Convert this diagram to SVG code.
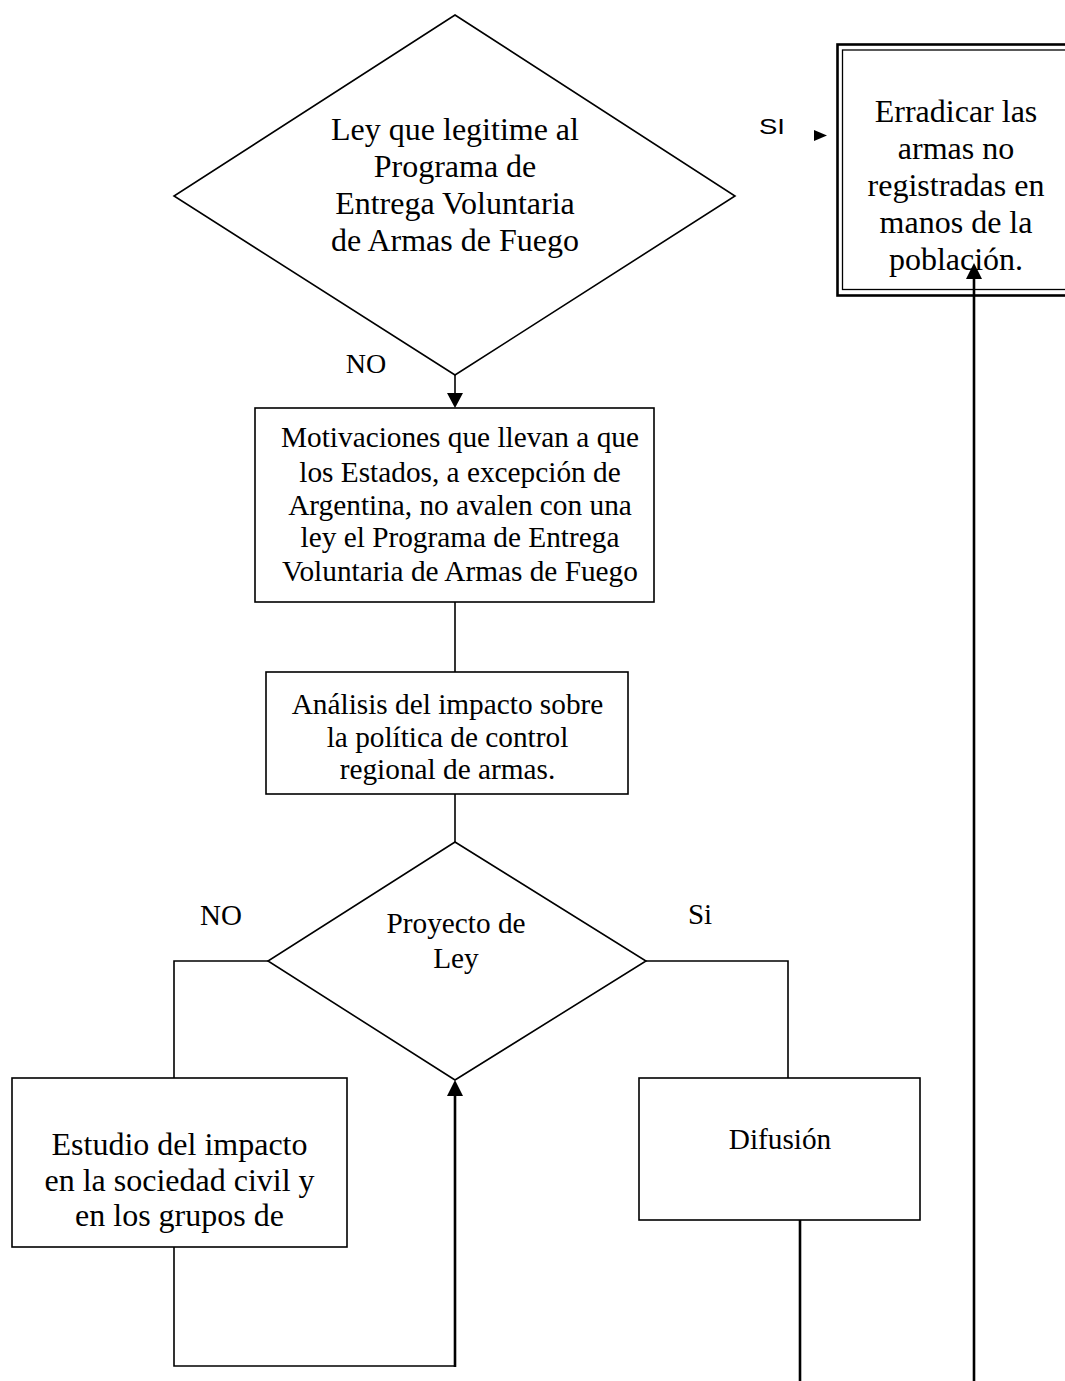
<svg xmlns="http://www.w3.org/2000/svg" width="1065" height="1381" viewBox="0 0 1065 1381">
<style>
.s{fill:#fff;stroke:#000;stroke-width:1.6}
.t{font-family:"Liberation Serif","Times New Roman",serif;font-size:29.3px;fill:#000;text-anchor:middle}
.tl{font-family:"Liberation Serif","Times New Roman",serif;font-size:32px;fill:#000;text-anchor:middle}
.c{fill:none;stroke:#000;stroke-width:1.6}
.ct{fill:none;stroke:#000;stroke-width:2.6}
</style>
<rect width="1065" height="1381" fill="#fff"/>
<g id="d1">
<polygon class="s" points="455,15 735,196 455,375 174,196"/>
<text class="tl" x="455" y="140">Ley que legitime al</text>
<text class="tl" x="455" y="177">Programa de</text>
<text class="tl" x="455" y="214">Entrega Voluntaria</text>
<text class="tl" x="455" y="251">de Armas de Fuego</text>
</g>
<g id="erradicar">
<rect x="837.5" y="44.5" width="240" height="251" fill="#fff" stroke="#000" stroke-width="2.6"/>
<rect x="842.5" y="50" width="230" height="239.5" fill="none" stroke="#000" stroke-width="1.3"/>
<text class="tl" x="956" y="122">Erradicar las</text>
<text class="tl" x="956" y="159">armas no</text>
<text class="tl" x="956" y="196">registradas en</text>
<text class="tl" x="956" y="233">manos de la</text>
<text class="tl" x="956" y="270">población.</text>
</g>
<g id="motivaciones">
<rect class="s" x="255" y="408" width="399" height="194"/>
<text class="t" x="460" y="447">Motivaciones que llevan a que</text>
<text class="t" x="460" y="482">los Estados, a excepción de</text>
<text class="t" x="460" y="515">Argentina, no avalen con una</text>
<text class="t" x="460" y="547">ley el Programa de Entrega</text>
<text class="t" x="460" y="581">Voluntaria de Armas de Fuego</text>
</g>
<g id="analisis">
<rect class="s" x="266" y="672" width="362" height="122"/>
<text class="t" x="447.5" y="714">Análisis del impacto sobre</text>
<text class="t" x="447.5" y="747">la política de control</text>
<text class="t" x="447.5" y="779">regional de armas.</text>
</g>
<g id="d2">
<polygon class="s" points="455,842 646,961 455,1080 268,961"/>
<text class="t" x="456" y="933">Proyecto de</text>
<text class="t" x="456" y="968">Ley</text>
</g>
<g id="estudio">
<rect class="s" x="12" y="1078" width="335" height="169"/>
<text class="tl" x="179.5" y="1155">Estudio del impacto</text>
<text class="tl" x="179.5" y="1191">en la sociedad civil y</text>
<text class="tl" x="179.5" y="1226">en los grupos de</text>
</g>
<g id="difusion">
<rect class="s" x="639" y="1078" width="281" height="142"/>
<text class="t" x="780" y="1149">Difusión</text>
</g>
<g id="connectors">
<line class="c" x1="455" y1="375" x2="455" y2="395"/>
<path d="M447,393 L463,393 L455,408 z" fill="#000"/>
<line class="c" x1="455" y1="602" x2="455" y2="672"/>
<line class="c" x1="455" y1="794" x2="455" y2="842"/>
<polyline class="c" points="268,961 174,961 174,1078"/>
<polyline class="c" points="646,961 788,961 788,1078"/>
<polyline class="c" points="174,1247 174,1366 455,1366"/>
<line class="ct" x1="455" y1="1367" x2="455" y2="1093"/>
<path d="M447,1096 L463,1096 L455,1080 z" fill="#000"/>
<line class="ct" x1="800" y1="1220" x2="800" y2="1381"/>
<line class="ct" x1="974" y1="1381" x2="974" y2="276"/>
<path d="M966,279 L982,279 L974,263 z" fill="#000"/>
<path d="M814,130 L827,135.5 L814,141 z" fill="#000"/>
<text transform="translate(759,134) scale(1.25,1)" font-family="Liberation Sans,Arial,sans-serif" font-size="22">SI</text>
<text x="366" y="373" font-family="Liberation Serif,Times New Roman,serif" font-size="28" text-anchor="middle">NO</text>
<text x="221" y="925" font-family="Liberation Serif,Times New Roman,serif" font-size="29" text-anchor="middle">NO</text>
<text x="700" y="924" font-family="Liberation Serif,Times New Roman,serif" font-size="29" text-anchor="middle">Si</text>
</g>
</svg>
